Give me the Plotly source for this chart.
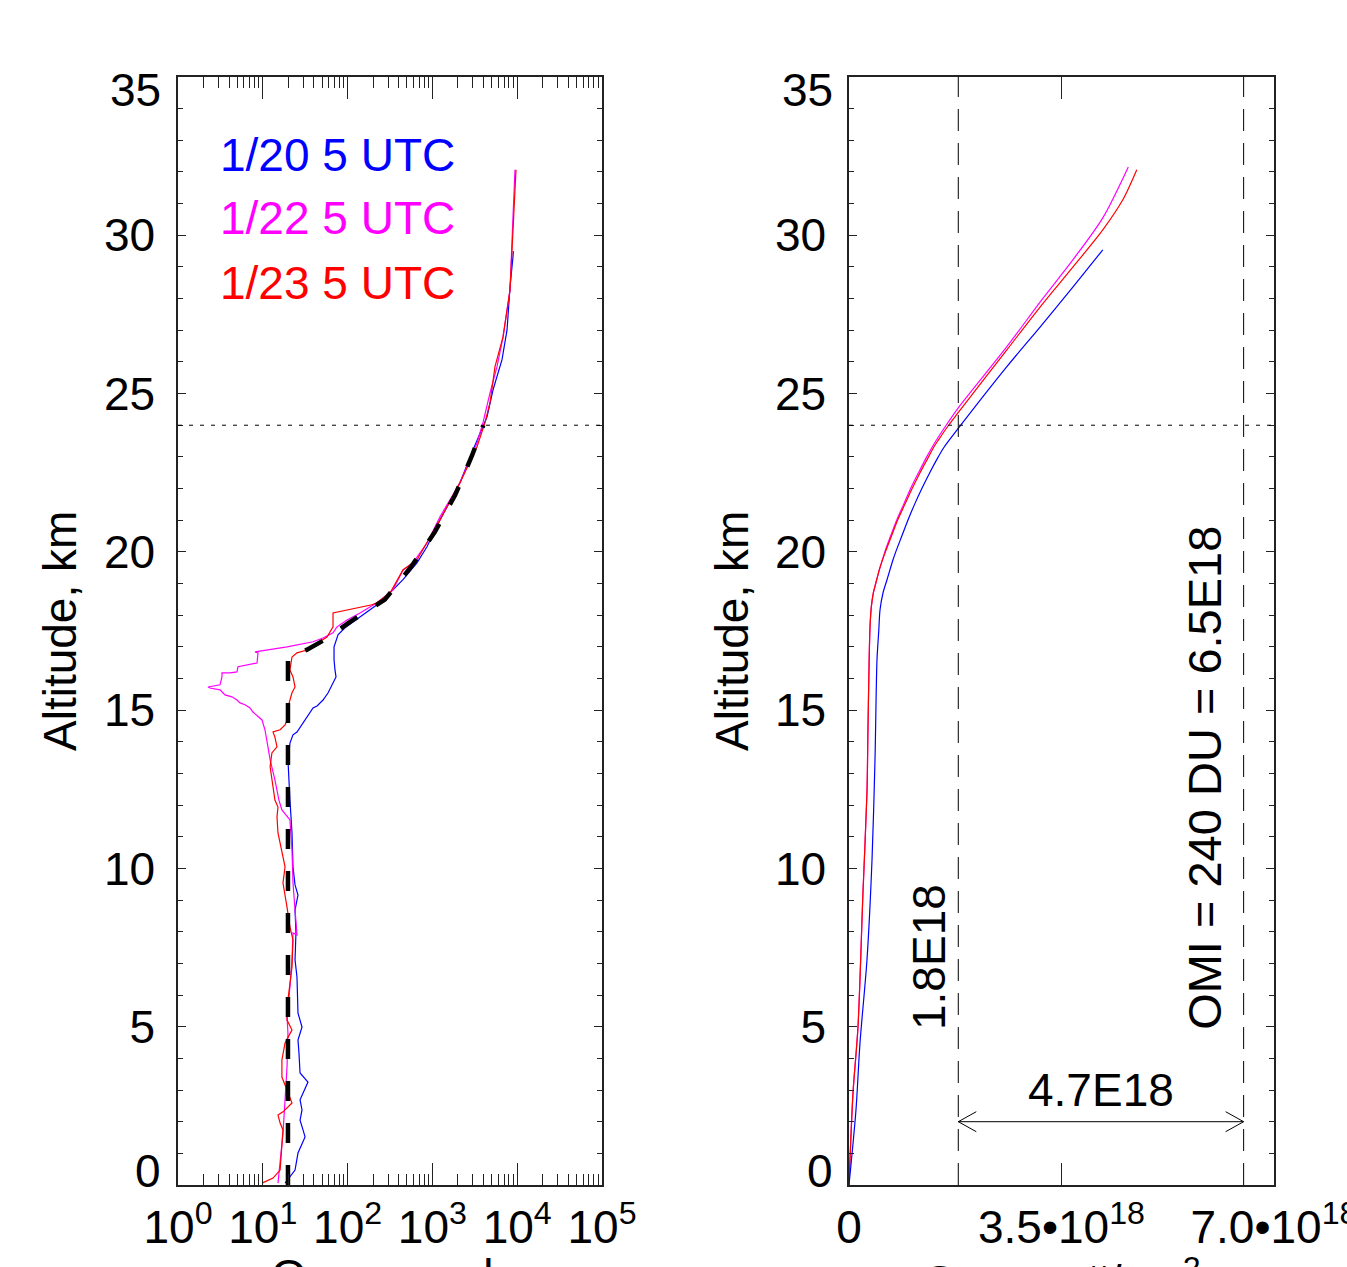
import plotly.graph_objects as go

W, H = 1347, 1267

# ---------------- Left panel: ozone mixing ratio profiles (ppb) ----------------
blue_alt = [0.06, 0.47, 1.01, 1.52, 1.74, 2.05, 2.37, 2.69, 3.25, 3.54, 4.17, 4.58, 4.99, 5.43,
            6.57, 7.11, 7.96, 8.69, 9.16, 9.48, 10.05, 11.12, 12.16, 13.43, 13.96, 14.22, 14.31,
            14.60, 14.91, 15.07, 15.13, 15.32, 15.54, 15.80, 16.05, 16.27, 16.59, 17.00, 17.38,
            17.60, 17.76, 18.01, 18.23, 18.33, 18.80, 19.12, 19.65, 20.16, 21.01, 22.18, 23.22,
            23.95, 24.26, 25.12, 26.07, 27.01, 28.37, 29.32, 29.5]
blue_ppb = [18.3, 24.0, 26.0, 31.5, 29.8, 27.5, 29.0, 27.5, 34.1, 27.5, 26.7, 26.0, 29.0, 26.0,
            25.3, 24.0, 24.6, 24.0, 26.0, 24.0, 22.7, 22.1, 20.9, 19.8, 20.9, 22.7, 25.3,
            29.8, 36.0, 39.1, 43.6, 51.3, 58.7, 65.5, 73.0, 71.0, 69.2, 69.2, 77.1,
            93.2, 113, 152, 194, 222, 343, 450, 658, 863, 1230, 2115, 3010,
            3950, 4400, 5190, 6620, 7590, 8230, 8920, 9000]

mag_alt = [0.06, 0.79, 1.64, 2.69, 3.73, 4.80, 5.31, 6.26, 7.11, 7.96, 7.90, 8.69, 9.54, 10.58,
           11.53, 11.85, 12.16, 12.80, 13.43, 13.84, 14.06, 14.38, 14.69, 14.79, 14.94, 15.07,
           15.17, 15.23, 15.32, 15.42, 15.48, 15.58, 15.64, 15.70, 15.73, 15.80, 16.05, 16.18,
           16.18, 16.21, 16.37, 16.49, 16.81, 16.84, 17.00, 17.16, 17.28, 17.44, 17.63, 17.85,
           18.07, 18.39, 18.80, 19.43, 19.65, 20.28, 21.11, 22.18, 23.44, 24.08, 25.02, 25.85,
           26.79, 28.28, 29.54, 30.58, 32.07]
mag_ppb = [15.1, 16.0, 17.3, 18.3, 19.3, 19.8, 19.3, 20.9, 22.1, 22.7, 25.3, 24.0, 22.7, 22.1,
           20.9, 16.8, 15.5, 13.9, 12.2, 11.5, 11.2, 10.6, 9.79, 8.78, 7.66, 7.06,
           6.17, 5.38, 4.96, 4.33, 3.58, 3.30, 3.13, 2.38, 2.26, 3.13, 3.30, 3.30,
           4.10, 4.96, 5.10, 8.55, 8.78, 8.09, 19.3, 39.1, 51.3, 67.3, 75.0, 98.4,
           140, 222, 343, 450, 590, 863, 1230, 2115, 3360, 3950, 4780, 5780,
           6810, 8230, 8690, 8920, 9420]

red_alt = [0.06, 0.22, 0.47, 1.11, 1.74, 1.96, 2.21, 2.31, 2.59, 3.00, 3.41, 3.95, 4.49, 4.90,
           5.21, 5.85, 6.89, 7.74, 8.15, 8.78, 9.54, 10.05, 10.58, 11.12, 11.63, 11.94, 12.16,
           12.58, 13.21, 13.65, 13.84, 14.15, 14.31, 14.38, 14.53, 14.69, 15.10, 15.55, 15.73,
           16.05, 16.27, 16.68, 16.81, 16.90, 17.12, 17.31, 17.63, 18.07, 18.33, 18.39, 18.70,
           19.12, 19.43, 19.75, 20.28, 21.01, 22.18, 23.32, 24.08, 24.71, 25.85, 26.79, 28.28,
           30.27, 31.12, 32.07]
red_ppb = [9.79, 13.2, 16.0, 16.8, 17.3, 16.0, 15.1, 17.3, 22.1, 19.3, 16.8, 16.8, 18.3, 22.1,
           19.3, 19.8, 22.1, 22.7, 20.9, 19.3, 17.3, 18.3, 16.8, 15.1, 14.7, 15.1, 13.9,
           13.2, 12.2, 12.8, 14.7, 13.9, 13.2, 16.0, 18.3, 19.3, 19.8, 22.1, 24.0,
           22.7, 20.9, 22.1, 25.3, 33.2, 43.6, 57.1, 67.3, 67.3, 194, 222, 316,
           383, 450, 658, 863, 1230, 2115, 3360, 4170, 4780, 5470, 6810, 8230,
           8920, 9420, 9680]

model_alt = [0.0, 16.66, 16.91, 17.19, 17.79, 18.49, 19.53, 20.63, 21.80, 23.06, 24.0]
model_ppb = [19.8, 19.8, 33.2, 51.0, 107, 275, 562, 1070, 1860, 2950, 3980]

# ---------------- Right panel: cumulative ozone column (units of 1e18 #/cm2) ----------------
col_blue_alt = [0.0, 2.37, 4.49, 7.11, 10.27, 13.43, 16.59, 17.5, 18.17, 18.7, 19.12, 19.75, 20.0,
                20.5, 21.0, 21.5, 22.0, 22.5, 23.0, 23.29, 23.85, 25.85, 27.11, 28.37, 29.54]
col_blue = [0.0, 0.115, 0.181, 0.296, 0.379, 0.428, 0.461, 0.49, 0.511, 0.56, 0.626, 0.725, 0.77,
            0.87, 0.97, 1.08, 1.20, 1.33, 1.47, 1.56, 1.78, 2.60, 3.15, 3.69, 4.18]
col_red_alt = [0.0, 2.91, 4.99, 9.23, 12.39, 14.47, 17.63, 18.3, 18.7, 19.0, 19.5, 20.0, 20.5,
               21.0, 21.5, 22.0, 22.5, 23.0, 23.32, 23.5, 24.0, 24.39, 26.38, 27.74, 29.0, 30.17,
               31.12, 32.07]
col_red = [0.0, 0.066, 0.148, 0.23, 0.296, 0.313, 0.346, 0.37, 0.40, 0.44, 0.51, 0.60, 0.70,
           0.80, 0.92, 1.04, 1.17, 1.31, 1.40, 1.46, 1.64, 1.795, 2.60, 3.15, 3.69, 4.18,
           4.51, 4.74]
col_mag_alt = [0.0, 2.91, 4.99, 9.23, 12.39, 14.47, 17.63, 18.3, 18.7, 19.0, 19.5, 20.0, 20.5,
               21.0, 21.5, 22.0, 22.5, 23.0, 23.5, 24.0, 24.55, 26.48, 27.90, 29.23, 30.55,
               32.16]
col_mag = [0.0, 0.066, 0.148, 0.23, 0.296, 0.313, 0.346, 0.37, 0.40, 0.44, 0.51, 0.59, 0.685,
           0.785, 0.90, 1.015, 1.145, 1.28, 1.43, 1.60, 1.80, 2.60, 3.15, 3.69, 4.18,
           4.60]

# reference values
tropopause_alt = 24.0
col_below = 1.8       # 1.8E18
col_omi = 6.5         # 6.5E18
arrow_alt = 2.0

x_left_ticks = [1, 10, 100, 1000, 10000, 100000]
x_left_text = ['10<sup>0</sup>', '10<sup>1</sup>', '10<sup>2</sup>', '10<sup>3</sup>',
               '10<sup>4</sup>', '10<sup>5</sup>']
x_left_minor = [m * 10 ** k for k in range(5) for m in range(2, 10)]
x_right_ticks = [0, 3.5, 7.0]
x_right_text = ['0', '3.5•10<sup>18</sup>', '7.0•10<sup>18</sup>']
y_ticks = [0, 5, 10, 15, 20, 25, 30, 35]
y_text = ['', '5', '10', '15', '20', '25', '30', '']

BLUE, MAG, RED = '#0000ff', '#ff00ff', '#ff0000'
FONT = 'Liberation Sans, Arial, sans-serif'
FS = 46

fig = go.Figure()
lw = 1.2
fig.add_trace(go.Scatter(x=blue_ppb, y=blue_alt, mode='lines', line=dict(color=BLUE, width=lw), xaxis='x', yaxis='y'))
fig.add_trace(go.Scatter(x=mag_ppb, y=mag_alt, mode='lines', line=dict(color=MAG, width=lw), xaxis='x', yaxis='y'))
fig.add_trace(go.Scatter(x=red_ppb, y=red_alt, mode='lines', line=dict(color=RED, width=lw), xaxis='x', yaxis='y'))
fig.add_trace(go.Scatter(x=model_ppb, y=model_alt, mode='lines',
                         line=dict(color='black', width=4.5, dash='20px,22px'), xaxis='x', yaxis='y'))

sp = dict(shape='spline', smoothing=0.8)
fig.add_trace(go.Scatter(x=col_mag, y=col_mag_alt, mode='lines', line=dict(color=MAG, width=lw, **sp), xaxis='x2', yaxis='y2'))
fig.add_trace(go.Scatter(x=col_red, y=col_red_alt, mode='lines', line=dict(color=RED, width=lw, **sp), xaxis='x2', yaxis='y2'))
fig.add_trace(go.Scatter(x=col_blue, y=col_blue_alt, mode='lines', line=dict(color=BLUE, width=lw, **sp), xaxis='x2', yaxis='y2'))

ydom = [1 - 1185 / H, 1 - 77 / H]
axis_common = dict(showline=True, linecolor='#222', linewidth=1.5, mirror='allticks', ticks='inside',
                   showgrid=False, zeroline=False, tickcolor='#222', tickwidth=1, automargin=False,
                   ticklabeloverflow='allow',
                   tickfont=dict(family=FONT, size=FS, color='black'))

fig.update_layout(
    width=W, height=H, autosize=False, margin=dict(l=0, r=0, t=0, b=0, pad=0, autoexpand=False),
    paper_bgcolor='white', plot_bgcolor='white',
    showlegend=False, hovermode=False,
    xaxis=dict(axis_common, type='log', range=[0, 5], domain=[178 / W, 602 / W], anchor='y',
               tickmode='array', tickvals=x_left_ticks, ticktext=x_left_text, ticklen=22,
               ticklabelstandoff=1,
               minor=dict(ticks='inside', ticklen=11, tickvals=x_left_minor, tickcolor='#222', showgrid=False)),
    yaxis=dict(axis_common, range=[0, 35], domain=ydom, anchor='x', tickmode='array', tickvals=y_ticks,
               ticktext=y_text, ticklen=8, ticklabelstandoff=12,
               minor=dict(ticks='inside', ticklen=5, tickmode='linear', tick0=0, dtick=1, tickcolor='#222', showgrid=False)),
    xaxis2=dict(axis_common, range=[0, 7], domain=[849 / W, 1274 / W], anchor='y2',
                tickmode='array', tickvals=x_right_ticks, ticktext=x_right_text, ticklen=22,
                ticklabelstandoff=1),
    yaxis2=dict(axis_common, range=[0, 35], domain=ydom, anchor='x2', tickmode='array', tickvals=y_ticks,
                ticktext=y_text, ticklen=8, ticklabelstandoff=12,
                minor=dict(ticks='inside', ticklen=5, tickmode='linear', tick0=0, dtick=1, tickcolor='#222', showgrid=False)),
)

shapes = []
for xr, yr in (('x', 'y'), ('x2', 'y2')):
    shapes.append(dict(type='line', xref=xr + ' domain', yref=yr, x0=0, x1=1, y0=tropopause_alt, y1=tropopause_alt,
                       line=dict(color='black', width=1, dash='4px,7px')))
for xv in (col_below, col_omi):
    shapes.append(dict(type='line', xref='x2', yref='y2', x0=xv, x1=xv, y0=0, y1=35,
                       line=dict(color='black', width=1, dash='22px,12px')))
# double arrow
shapes.append(dict(type='line', xref='x2', yref='y2', x0=col_below, x1=col_omi, y0=arrow_alt, y1=arrow_alt,
                   line=dict(color='black', width=1)))
hx = 18 / 425 * 7.0
hy = 10 / ((1185 - 77) / 35)
for xa, sgn in ((col_below, 1), (col_omi, -1)):
    for dy in (hy, -hy):
        shapes.append(dict(type='line', xref='x2', yref='y2', x0=xa, y0=arrow_alt, x1=xa + sgn * hx, y1=arrow_alt + dy,
                           line=dict(color='black', width=1)))
fig.update_layout(shapes=shapes)

def px(xp):
    return xp / W

def py(yp):
    return 1 - yp / H

ann = []
f = dict(family=FONT, size=FS, color='black')
# legend texts
for txt, col, yp in (('1/20 5 UTC', BLUE, 155), ('1/22 5 UTC', MAG, 218), ('1/23 5 UTC', RED, 283)):
    ann.append(dict(text=txt, xref='paper', yref='paper', x=px(218), y=py(yp), xanchor='left', yanchor='middle',
                    showarrow=False, font=dict(family=FONT, size=FS, color=col)))
# end y tick labels (shifted inwards like the original)
for xr in (163, 835):
    ann.append(dict(text='0', xref='paper', yref='paper', x=px(xr), y=py(1171), xanchor='right', yanchor='middle',
                    showarrow=False, font=f))
    ann.append(dict(text='35', xref='paper', yref='paper', x=px(xr), y=py(90), xanchor='right', yanchor='middle',
                    showarrow=False, font=f))
# y titles
for xc in (60, 732):
    ann.append(dict(text='Altitude, km', xref='paper', yref='paper', x=px(xc), y=py(631), xanchor='center',
                    yanchor='middle', textangle=-90, showarrow=False, font=f))
# x titles (partly cut off at bottom)
ann.append(dict(text='Ozone, ppb', xref='paper', yref='paper', x=px(390), y=py(1248), xanchor='center',
                yanchor='top', showarrow=False, font=f))
ann.append(dict(text='Ozone, #/cm<sup>2</sup>', xref='paper', yref='paper', x=px(1061), y=py(1248), xanchor='center',
                yanchor='top', showarrow=False, font=f))
# right panel annotations
ann.append(dict(text='4.7E18', xref='x2', yref='y2', x=(col_below + col_omi) / 2, y=arrow_alt, xanchor='center',
                yanchor='bottom', yshift=4, showarrow=False, font=f))
ann.append(dict(text='1.8E18', xref='x2', yref='y2', x=col_below, y=5.0, xanchor='right', yanchor='bottom',
                textangle=-90, xshift=-2, yshift=-5, showarrow=False, font=f))
ann.append(dict(text='OMI = 240 DU = 6.5E18', xref='x2', yref='y2', x=col_omi, y=5.0, xanchor='right',
                yanchor='bottom', textangle=-90, xshift=-10, yshift=-5, showarrow=False,
                font=dict(family=FONT, size=47, color='black')))
fig.update_layout(annotations=ann)

fig.write_html('out.html')
